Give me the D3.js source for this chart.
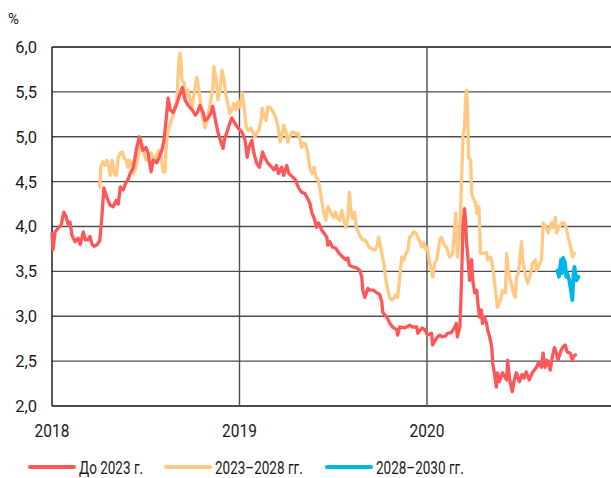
<!DOCTYPE html>
<html>
<head>
<meta charset="utf-8">
<script src="https://d3js.org/d3.v7.min.js"></script>
<style>
  body { margin: 0; background: #fff; }
  text { font-family: "Roboto", sans-serif; fill: #1a1a1a; }
</style>
</head>
<body>
<div id="chart"></div>
<script>
// yields, % -- dates and values
var short = [
  ["2018-01-01",3.92],["2018-01-03",3.74],["2018-01-07",3.94],["2018-01-13",3.98],["2018-01-19",4.02],
  ["2018-01-24",4.16],["2018-01-28",4.12],["2018-02-01",4.03],["2018-02-05",4.05],["2018-02-09",3.90],
  ["2018-02-15",3.83],["2018-02-21",3.87],["2018-02-25",3.80],["2018-03-03",3.94],["2018-03-07",3.85],
  ["2018-03-12",3.85],["2018-03-16",3.89],["2018-03-20",3.80],["2018-03-24",3.78],["2018-03-30",3.80],
  ["2018-04-04",3.84],["2018-04-08",4.10],["2018-04-12",4.43],["2018-04-18",4.32],["2018-04-24",4.24],
  ["2018-04-30",4.22],["2018-05-06",4.29],["2018-05-10",4.25],["2018-05-14",4.44],["2018-05-20",4.41],
  ["2018-05-24",4.48],["2018-05-29",4.52],["2018-06-02",4.59],["2018-06-08",4.65],["2018-06-14",4.85],
  ["2018-06-20",5.00],["2018-06-24",4.91],["2018-06-27",4.85],["2018-07-03",4.88],["2018-07-07",4.82],
  ["2018-07-13",4.61],["2018-07-17",4.74],["2018-07-24",4.71],["2018-07-28",4.76],["2018-08-03",4.85],
  ["2018-08-07",4.96],["2018-08-11",5.18],["2018-08-15",5.43],["2018-08-19",5.30],["2018-08-25",5.27],
  ["2018-08-31",5.35],["2018-09-06",5.46],["2018-09-12",5.55],["2018-09-17",5.41],["2018-09-23",5.35],
  ["2018-10-01",5.30],["2018-10-07",5.24],["2018-10-11",5.27],["2018-10-16",5.35],["2018-10-22",5.27],
  ["2018-10-26",5.18],["2018-11-01",5.21],["2018-11-07",5.27],["2018-11-10",5.34],["2018-11-16",5.16],
  ["2018-11-20",5.05],["2018-11-26",4.94],["2018-11-30",4.87],["2018-12-03",4.98],["2018-12-07",5.04],
  ["2018-12-13",5.15],["2018-12-17",5.21],["2018-12-23",5.15],["2018-12-29",5.10],["2019-01-06",5.05],
  ["2019-01-12",4.96],["2019-01-16",4.77],["2019-01-19",4.88],["2019-01-25",4.96],["2019-01-29",4.82],
  ["2019-02-03",4.71],["2019-02-09",4.66],["2019-02-15",4.83],["2019-02-19",4.77],["2019-02-25",4.71],
  ["2019-03-05",4.66],["2019-03-09",4.63],["2019-03-14",4.68],["2019-03-18",4.59],["2019-03-24",4.66],
  ["2019-03-28",4.57],["2019-04-03",4.68],["2019-04-07",4.59],["2019-04-15",4.55],["2019-04-20",4.52],
  ["2019-04-26",4.43],["2019-05-02",4.38],["2019-05-08",4.37],["2019-05-12",4.33],["2019-05-18",4.26],
  ["2019-05-22",4.15],["2019-05-26",4.10],["2019-05-31",3.99],["2019-06-04",4.04],["2019-06-10",3.96],
  ["2019-06-14",3.93],["2019-06-20",3.88],["2019-06-22",3.79],["2019-06-26",3.83],["2019-07-01",3.77],
  ["2019-07-07",3.76],["2019-07-13",3.71],["2019-07-21",3.66],["2019-07-27",3.63],["2019-07-31",3.65],
  ["2019-08-03",3.57],["2019-08-09",3.55],["2019-08-17",3.54],["2019-08-23",3.51],["2019-08-27",3.44],
  ["2019-08-29",3.29],["2019-09-02",3.21],["2019-09-08",3.31],["2019-09-12",3.29],["2019-09-18",3.29],
  ["2019-09-26",3.26],["2019-10-01",3.24],["2019-10-05",3.16],["2019-10-07",3.04],["2019-10-15",2.99],
  ["2019-10-21",2.92],["2019-10-26",2.88],["2019-11-03",2.85],["2019-11-05",2.79],["2019-11-09",2.88],
  ["2019-11-19",2.87],["2019-11-28",2.90],["2019-12-04",2.88],["2019-12-12",2.88],["2019-12-14",2.81],
  ["2019-12-22",2.87],["2019-12-28",2.85],["2020-01-02",2.79],["2020-01-10",2.81],["2020-01-12",2.68],
  ["2020-01-20",2.76],["2020-01-26",2.79],["2020-01-31",2.77],["2020-02-06",2.78],["2020-02-10",2.81],
  ["2020-02-18",2.82],["2020-02-24",2.88],["2020-02-27",2.92],["2020-02-29",2.77],["2020-03-05",2.88],
  ["2020-03-07",3.18],["2020-03-09",3.55],["2020-03-11",3.99],["2020-03-14",4.20],["2020-03-16",4.07],
  ["2020-03-18",3.82],["2020-03-20",3.70],["2020-03-24",3.40],["2020-03-28",3.63],["2020-03-30",3.40],
  ["2020-04-03",3.26],["2020-04-07",3.29],["2020-04-09",3.15],["2020-04-12",2.99],["2020-04-16",3.07],
  ["2020-04-18",2.92],["2020-04-22",2.99],["2020-04-26",2.92],["2020-04-28",2.85],["2020-05-02",2.77],
  ["2020-05-06",2.66],["2020-05-08",2.48],["2020-05-11",2.37],["2020-05-15",2.21],["2020-05-17",2.37],
  ["2020-05-21",2.27],["2020-05-27",2.37],["2020-06-04",2.29],["2020-06-06",2.51],["2020-06-10",2.29],
  ["2020-06-15",2.16],["2020-06-19",2.29],["2020-06-23",2.37],["2020-06-29",2.27],["2020-07-04",2.35],
  ["2020-07-08",2.31],["2020-07-12",2.38],["2020-07-18",2.29],["2020-07-24",2.37],["2020-08-01",2.43],
  ["2020-08-05",2.48],["2020-08-11",2.43],["2020-08-14",2.59],["2020-08-18",2.43],["2020-08-22",2.51],
  ["2020-08-28",2.40],["2020-09-01",2.55],["2020-09-05",2.65],["2020-09-09",2.59],["2020-09-12",2.51],
  ["2020-09-18",2.62],["2020-09-22",2.66],["2020-09-26",2.68],["2020-09-30",2.60],["2020-10-06",2.59],
  ["2020-10-10",2.51],["2020-10-12",2.55],["2020-10-16",2.57]
];

var mid = [
  ["2018-04-04",4.44],["2018-04-06",4.66],["2018-04-10",4.72],["2018-04-14",4.68],["2018-04-18",4.74],
  ["2018-04-22",4.66],["2018-04-24",4.57],["2018-04-28",4.74],["2018-05-02",4.59],["2018-05-06",4.57],
  ["2018-05-10",4.77],["2018-05-14",4.82],["2018-05-18",4.83],["2018-05-21",4.77],["2018-05-25",4.74],
  ["2018-05-29",4.66],["2018-05-31",4.74],["2018-06-04",4.71],["2018-06-08",4.59],["2018-06-12",4.63],
  ["2018-06-16",4.74],["2018-06-20",4.85],["2018-06-24",4.96],["2018-06-27",4.85],["2018-07-03",4.74],
  ["2018-07-07",4.76],["2018-07-13",4.82],["2018-07-17",4.77],["2018-07-21",4.74],["2018-07-24",4.80],
  ["2018-07-28",4.85],["2018-08-01",4.77],["2018-08-03",4.71],["2018-08-05",4.61],["2018-08-09",4.61],
  ["2018-08-11",4.85],["2018-08-13",5.00],["2018-08-17",5.11],["2018-08-21",5.18],["2018-08-25",5.24],
  ["2018-08-28",5.32],["2018-09-01",5.39],["2018-09-03",5.63],["2018-09-05",5.85],["2018-09-07",5.93],
  ["2018-09-09",5.85],["2018-09-11",5.63],["2018-09-15",5.60],["2018-09-19",5.44],["2018-09-23",5.52],
  ["2018-09-27",5.41],["2018-10-01",5.33],["2018-10-04",5.46],["2018-10-08",5.60],["2018-10-10",5.66],
  ["2018-10-14",5.52],["2018-10-18",5.33],["2018-10-22",5.18],["2018-10-26",5.10],["2018-10-30",5.18],
  ["2018-11-05",5.37],["2018-11-10",5.55],["2018-11-12",5.78],["2018-11-16",5.66],["2018-11-20",5.41],
  ["2018-11-24",5.52],["2018-11-28",5.74],["2018-12-01",5.66],["2018-12-05",5.49],["2018-12-09",5.37],
  ["2018-12-13",5.26],["2018-12-17",5.30],["2018-12-21",5.37],["2018-12-25",5.30],["2018-12-29",5.39],
  ["2019-01-02",5.33],["2019-01-06",5.49],["2019-01-10",5.33],["2019-01-14",5.11],["2019-01-18",5.07],
  ["2019-01-23",5.10],["2019-01-27",5.05],["2019-01-31",5.00],["2019-02-04",5.05],["2019-02-08",5.07],
  ["2019-02-12",5.18],["2019-02-14",5.32],["2019-02-18",5.24],["2019-02-22",5.18],["2019-02-25",5.33],
  ["2019-03-01",5.33],["2019-03-05",5.30],["2019-03-09",5.26],["2019-03-13",5.21],["2019-03-17",5.11],
  ["2019-03-21",4.94],["2019-03-25",5.02],["2019-03-28",5.13],["2019-04-01",5.07],["2019-04-05",4.94],
  ["2019-04-09",5.00],["2019-04-13",5.05],["2019-04-17",5.05],["2019-04-21",5.02],["2019-04-25",5.04],
  ["2019-04-29",4.96],["2019-05-02",4.88],["2019-05-06",4.93],["2019-05-10",4.91],["2019-05-14",4.82],
  ["2019-05-18",4.65],["2019-05-22",4.59],["2019-05-26",4.66],["2019-05-30",4.55],["2019-06-03",4.52],
  ["2019-06-06",4.44],["2019-06-10",4.29],["2019-06-14",4.15],["2019-06-18",4.07],["2019-06-22",4.22],
  ["2019-06-26",4.18],["2019-06-30",4.13],["2019-07-03",4.10],["2019-07-07",4.16],["2019-07-11",4.09],
  ["2019-07-15",4.07],["2019-07-19",4.18],["2019-07-23",4.07],["2019-07-27",3.99],["2019-07-31",4.09],
  ["2019-08-03",4.38],["2019-08-05",4.22],["2019-08-09",4.09],["2019-08-13",4.16],["2019-08-17",3.98],
  ["2019-08-21",3.93],["2019-08-25",3.88],["2019-08-29",3.85],["2019-09-02",3.85],["2019-09-06",3.82],
  ["2019-09-10",3.77],["2019-09-14",3.76],["2019-09-18",3.74],["2019-09-22",3.74],["2019-09-26",3.79],
  ["2019-09-29",3.88],["2019-10-01",3.82],["2019-10-05",3.70],["2019-10-09",3.59],["2019-10-13",3.40],
  ["2019-10-17",3.29],["2019-10-21",3.20],["2019-10-25",3.18],["2019-10-29",3.20],["2019-11-01",3.24],
  ["2019-11-05",3.21],["2019-11-09",3.44],["2019-11-13",3.66],["2019-11-17",3.63],["2019-11-21",3.70],
  ["2019-11-25",3.74],["2019-11-28",3.88],["2019-12-02",3.90],["2019-12-06",3.94],["2019-12-10",3.93],
  ["2019-12-14",3.88],["2019-12-18",3.83],["2019-12-22",3.77],["2019-12-26",3.82],["2019-12-30",3.74],
  ["2020-01-02",3.77],["2020-01-05",3.63],["2020-01-12",3.44],["2020-01-16",3.59],["2020-01-20",3.63],
  ["2020-01-26",3.85],["2020-01-29",3.88],["2020-02-04",3.79],["2020-02-08",3.77],["2020-02-14",3.66],
  ["2020-02-20",3.70],["2020-02-26",4.15],["2020-02-29",3.66],["2020-03-05",3.96],["2020-03-07",4.29],
  ["2020-03-11",5.00],["2020-03-14",5.11],["2020-03-16",5.41],["2020-03-18",5.52],["2020-03-20",5.30],
  ["2020-03-22",4.77],["2020-03-26",4.74],["2020-03-28",4.37],["2020-03-30",4.33],["2020-04-05",4.26],
  ["2020-04-07",4.15],["2020-04-11",4.22],["2020-04-12",4.10],["2020-04-14",3.70],["2020-04-20",3.70],
  ["2020-04-26",3.71],["2020-04-28",3.63],["2020-05-04",3.66],["2020-05-08",3.55],["2020-05-11",3.40],
  ["2020-05-15",3.21],["2020-05-17",3.10],["2020-05-23",3.18],["2020-05-27",3.29],["2020-06-02",3.26],
  ["2020-06-04",3.70],["2020-06-08",3.48],["2020-06-13",3.37],["2020-06-17",3.26],["2020-06-21",3.21],
  ["2020-06-23",3.44],["2020-06-27",3.48],["2020-07-03",3.83],["2020-07-05",3.63],["2020-07-11",3.44],
  ["2020-07-15",3.37],["2020-07-21",3.48],["2020-07-24",3.59],["2020-07-30",3.63],["2020-08-01",3.51],
  ["2020-08-05",3.55],["2020-08-11",3.63],["2020-08-14",4.04],["2020-08-20",3.99],["2020-08-24",3.93],
  ["2020-08-30",4.04],["2020-09-01",3.99],["2020-09-07",4.10],["2020-09-09",3.93],["2020-09-14",3.99],
  ["2020-09-20",4.04],["2020-09-24",4.04],["2020-09-28",3.99],["2020-10-02",3.88],["2020-10-08",3.74],
  ["2020-10-10",3.66],["2020-10-14",3.70]
];

var long = [
  ["2020-09-11",3.51],["2020-09-14",3.44],["2020-09-18",3.63],["2020-09-20",3.48],["2020-09-22",3.65],
  ["2020-09-26",3.59],["2020-09-28",3.44],["2020-09-30",3.48],["2020-10-04",3.40],["2020-10-08",3.26],
  ["2020-10-10",3.18],["2020-10-12",3.44],["2020-10-14",3.55],["2020-10-16",3.48],["2020-10-18",3.40],
  ["2020-10-22",3.44]
];

var seriesNames = ["До 2023 г.", "2023–2028 гг.", "2028–2030 гг."];
var seriesColors = ["#ff5757", "#ffc983", "#00b6e8"];
var yTicks = [2, 2.5, 3, 3.5, 4, 4.5, 5, 5.5, 6];
var yearTicks = ["2018", "2019", "2020"];

var W = 611, H = 478;
var parse = d3.timeParse("%Y-%m-%d");
var svg = d3.select("#chart").append("svg").attr("width", W).attr("height", H);

var x = d3.scaleTime().domain([parse("2018-01-01"), parse("2021-01-01")]).range([52, 615]);
var y = d3.scaleLinear().domain([2, 6]).range([406, 47]);
var fmt = function (d) { return d3.format(".1f")(d).replace(".", ","); };

// horizontal grid
svg.append("g").selectAll("line").data(yTicks).enter().append("line")
  .attr("x1", 52).attr("x2", W)
  .attr("y1", function (d) { return y(d); }).attr("y2", function (d) { return y(d); })
  .attr("stroke", function (d) { return (d === 6 || d === 2) ? "#111" : "#4d4d4d"; })
  .attr("stroke-width", 1.4);

// year lines
svg.append("g").selectAll("line").data(yearTicks).enter().append("line")
  .attr("x1", function (d) { return x(parse(d + "-01-01")); })
  .attr("x2", function (d) { return x(parse(d + "-01-01")); })
  .attr("y1", 47).attr("y2", 406)
  .attr("stroke", function (d, i) { return i === 0 ? "#111" : "#4d4d4d"; })
  .attr("stroke-width", 1.4);

// y labels
svg.append("g").selectAll("text").data(yTicks).enter().append("text")
  .attr("x", 37).attr("y", function (d) { return y(d); })
  .attr("dy", "0.36em").attr("text-anchor", "end")
  .style("font-size", "16.5px").text(fmt);

svg.append("text").attr("x", 8).attr("y", 24).style("font-size", "15px").text("%");

// x labels (slightly condensed)
svg.append("g").selectAll("text").data(yearTicks).enter().append("text")
  .attr("transform", function (d) { return "translate(" + x(parse(d + "-01-01")) + ",437) scale(0.86,1)"; })
  .attr("text-anchor", "middle")
  .style("font-size", "18px").text(function (d) { return d; });

var line = d3.line()
  .x(function (d) { return x(parse(d[0])); })
  .y(function (d) { return y(d[1]); });

var drawOrder = [[mid, 1, 3.3], [short, 0, 3.3], [long, 2, 3.8]];
drawOrder.forEach(function (s) {
  svg.append("path").datum(s[0])
    .attr("fill", "none")
    .attr("stroke", seriesColors[s[1]])
    .attr("stroke-width", s[2])
    .attr("stroke-linejoin", "round")
    .attr("stroke-linecap", "round")
    .attr("d", line);
});

// legend
var legX = [30, 166, 327];
var leg = svg.append("g").selectAll("g").data(seriesNames).enter().append("g")
  .attr("transform", function (d, i) { return "translate(" + legX[i] + ",467)"; });
leg.append("line").attr("x1", 0).attr("x2", 44).attr("y1", 0).attr("y2", 0)
  .attr("stroke", function (d, i) { return seriesColors[i]; })
  .attr("stroke-width", 4).attr("stroke-linecap", "round");
leg.append("text").attr("transform", "translate(49,0) scale(0.73,1)").attr("dy", "0.36em")
  .style("font-size", "18.5px").text(function (d) { return d; });
</script>
</body>
</html>
